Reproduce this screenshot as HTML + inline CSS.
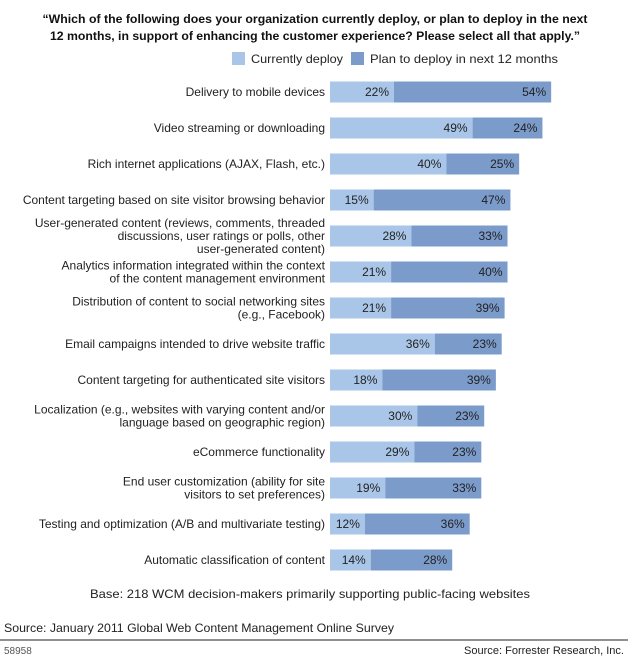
<!DOCTYPE html>
<html><head><meta charset="utf-8">
<style>
body{margin:0;background:#fff;font-family:"Liberation Sans",sans-serif;}
svg text{font-family:"Liberation Sans",sans-serif;}
</style></head>
<body>
<svg width="638" height="665" xmlns="http://www.w3.org/2000/svg">
<g font-weight="bold" font-size="12.3" fill="#111" text-anchor="middle" textLength="0">
<text x="315" y="23" textLength="545" lengthAdjust="spacingAndGlyphs">“Which of the following does your organization currently deploy, or plan to deploy in the next</text>
<text x="315" y="40" textLength="530" lengthAdjust="spacingAndGlyphs">12 months, in support of enhancing the customer experience? Please select all that apply.”</text>
</g>
<g font-size="12" fill="#222">
<rect x="232" y="52" width="13" height="13" fill="#a9c6e8"/>
<text x="251" y="63" textLength="92" lengthAdjust="spacingAndGlyphs">Currently deploy</text>
<rect x="351" y="52" width="13" height="13" fill="#7b9bcb"/>
<text x="370" y="63" textLength="188" lengthAdjust="spacingAndGlyphs">Plan to deploy in next 12 months</text>
</g>
<g id="bars"></g>
<text x="310" y="598" font-size="12" text-anchor="middle" fill="#222" textLength="440" lengthAdjust="spacingAndGlyphs">Base: 218 WCM decision-makers primarily supporting public-facing websites</text>
<text x="4" y="632" font-size="12" fill="#222" textLength="390" lengthAdjust="spacingAndGlyphs">Source: January 2011 Global Web Content Management Online Survey</text>
<line x1="0" y1="640" x2="628" y2="640" stroke="#222" stroke-width="1"/>
<text x="4" y="654" font-size="10" fill="#555">58958</text>
<text x="624" y="654" font-size="11" fill="#222" text-anchor="end" textLength="160" lengthAdjust="spacingAndGlyphs">Source: Forrester Research, Inc.</text>
</svg>
<script>
const categories=[
["Delivery to mobile devices"],
["Video streaming or downloading"],
["Rich internet applications (AJAX, Flash, etc.)"],
["Content targeting based on site visitor browsing behavior"],
["User-generated content (reviews, comments, threaded","discussions,  user ratings or polls, other","user-generated content)"],
["Analytics information integrated within the context","of the content management environment"],
["Distribution of content to social networking sites","(e.g., Facebook)"],
["Email campaigns intended to drive website traffic"],
["Content targeting for authenticated site visitors"],
["Localization (e.g., websites with varying content and/or","language based on geographic region)"],
["eCommerce functionality"],
["End user customization (ability for site","visitors to set preferences)"],
["Testing and optimization (A/B and multivariate testing)"],
["Automatic classification of content"]
];
const currentlyDeploy=[22,49,40,15,28,21,21,36,18,30,29,19,12,14];
const planToDeploy=[54,24,25,47,33,40,39,23,39,23,23,33,36,28];
const NS="http://www.w3.org/2000/svg";
const g=document.getElementById('bars');
const x0=330,pxPer=2.91,y0=92,step=36,bh=21;
const xs=v=>v*pxPer;
const ys=i=>y0+i*step;
function mk(t,a){const e=document.createElementNS(NS,t);for(const k in a)e.setAttribute(k,a[k]);g.appendChild(e);return e;}
categories.forEach((lines,i)=>{
 const cy=ys(i);
 const lh=13;
 lines.forEach((ln,j)=>{
  const t=mk('text',{x:325,y:cy+4+(j-(lines.length-1)/2)*lh,'font-size':12,'text-anchor':'end',fill:'#222'});
  
  
  t.textContent=ln;
 });
 const w1=xs(currentlyDeploy[i]),w2=xs(planToDeploy[i]);
 const r1=mk('rect',{x:x0,y:cy-bh/2,width:w1,height:bh,fill:'#a9c6e8'});
 
 
 const r2=mk('rect',{x:x0+w1,y:cy-bh/2,width:w2,height:bh,fill:'#7b9bcb'});
 
 
 const l1=mk('text',{x:x0+w1-5,y:cy+4,'font-size':12,'text-anchor':'end',fill:'#222'});
 
 
 l1.textContent=currentlyDeploy[i]+'%';
 const l2=mk('text',{x:x0+w1+w2-5,y:cy+4,'font-size':12,'text-anchor':'end',fill:'#222'});
 
 
 l2.textContent=planToDeploy[i]+'%';
});
</script>
</body></html>
